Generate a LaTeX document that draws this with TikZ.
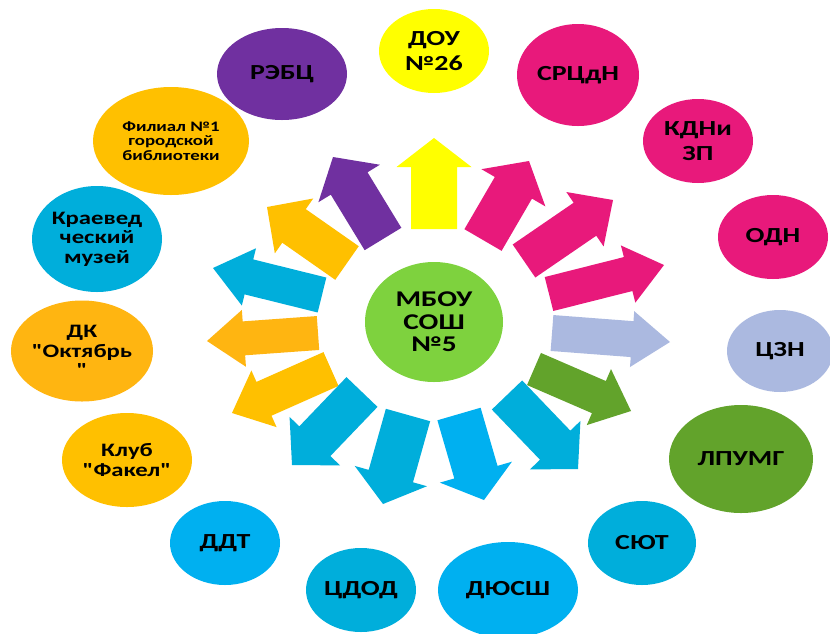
\documentclass[tikz,border=0pt]{standalone}
\usepackage{fontspec}
\newfontfamily\lblfont{Carlito}[FakeStretch=1.3]
\usetikzlibrary{calc,shapes.geometric}
\definecolor{cyel}{HTML}{FFFF00}
\definecolor{cpur}{HTML}{7030A0}
\definecolor{cgold}{HTML}{FFC000}
\definecolor{corg}{HTML}{FFB511}
\definecolor{ccyd}{HTML}{00AEDB}
\definecolor{ccyb}{HTML}{00B0F0}
\definecolor{cgrn}{HTML}{62A32B}
\definecolor{clav}{HTML}{ABB9E0}
\definecolor{cmag}{HTML}{E8197B}
\definecolor{clime}{HTML}{7ED23E}
\tikzset{
  bub/.style={ellipse, inner sep=0pt, align=center, text=black,
    font=\lblfont\bfseries\fontsize{21.5}{25}\selectfont},
  ctr/.style={font=\lblfont\bfseries\fontsize{22.5}{22.5}\selectfont},
  small/.style={font=\lblfont\bfseries\fontsize{14.5}{14.3}\selectfont},
  mid/.style={font=\lblfont\bfseries\fontsize{19}{19.5}\selectfont},
}
\newcommand\barrow[7]{%
  \coordinate (#1b) at (#3);
  \coordinate (#1t) at (#4);
  \coordinate (#1h) at ($(#1t)!#7!(#1b)$);
  \fill[#2] ($(#1b)!#5!90:(#1t)$) -- ($(#1h)!#5!90:(#1t)$) -- ($(#1h)!#6!90:(#1t)$)
    -- (#1t) -- ($(#1h)!#6!-90:(#1t)$) -- ($(#1h)!#5!-90:(#1t)$) -- ($(#1b)!#5!-90:(#1t)$) -- cycle;
}
\begin{document}
\begin{tikzpicture}[x=1pt,y=-1pt]
\useasboundingbox[fill=white] (0,0) rectangle (830,633);
% outer bubbles
\node[bub, fill=cyel, minimum width=110pt, minimum height=84pt] (dou) at (434,51) {ДОУ\\№26};
\node[bub, fill=cmag, minimum width=122pt, minimum height=102pt] (srcdn) at (578,75) {СРЦдН};
\node[bub, fill=cmag, minimum width=110pt, minimum height=84pt] (kdn) at (698,141) {КДНи\\ЗП};
\node[bub, fill=cmag, minimum width=110pt, minimum height=84pt] (odn) at (773,237) {ОДН};
\node[bub, fill=clav, minimum width=106pt, minimum height=82pt] (czn) at (780,351) {ЦЗН};
\node[bub, fill=cgrn, minimum width=144pt, minimum height=108pt] (lpumg) at (741,459) {ЛПУМГ};
\node[bub, fill=ccyd, minimum width=108pt, minimum height=84pt] (syut) at (642,543) {СЮТ};
\node[bub, fill=ccyb, minimum width=140pt, minimum height=96pt] (dyussh) at (508,590) {ДЮСШ};
\node[bub, fill=ccyd, minimum width=110pt, minimum height=84pt] (cdod) at (361,590) {ЦДОД};
\node[bub, fill=ccyb, minimum width=110pt, minimum height=84pt] (ddt) at (225,543) {ДДТ};
\node[bub, mid, fill=cgold, minimum width=130pt, minimum height=94pt] (klub) at (127,460) {Клуб\\"Факел"};
\node[bub, mid, fill=corg, minimum width=142pt, minimum height=101pt] (dk) at (82,351) {ДК\\"Октябрь\\"};
\node[bub, mid, fill=ccyd, minimum width=130pt, minimum height=106pt] (kraeved) at (97,239) {Краевед\\ческий\\музей};
\node[bub, small, fill=cgold, minimum width=156pt, minimum height=108pt] (filial) at (171,141) {Филиал №1\\городской\\библиотеки};
\node[bub, fill=cpur, minimum width=130pt, minimum height=92pt] (rebc) at (282,74) {РЭБЦ};
% centre
\node[bub, ctr, fill=clime, minimum width=138pt, minimum height=120pt] (mbou) at (434,322) {МБОУ\\СОШ\\№5};
% block arrows
\barrow{a1}{cyel}{434,229}{434,138}{23pt}{37.5pt}{29pt}
\barrow{a2}{cpur}{383,239}{333,157}{21.5pt}{36pt}{31pt}
\barrow{a3}{cgold}{347,263}{267,207}{20.5pt}{33.5pt}{33pt}
\barrow{a4}{ccyd}{322,295}{213,268}{18pt}{29.5pt}{37pt}
\barrow{a5}{corg}{318,333}{207,341}{17pt}{28.5pt}{37pt}
\barrow{a6}{cgold}{331,369}{232,413}{18.5pt}{31pt}{35pt}
\barrow{a7}{ccyd}{362,392}{292,465}{21.5pt}{35pt}{33pt}
\barrow{a8}{ccyd}{408,415}{383,504}{23pt}{37.5pt}{29pt}
\barrow{a9}{ccyb}{459,414}{484,500}{22.5pt}{37.5pt}{29pt}
\barrow{a10}{ccyd}{507,395}{578,469}{21pt}{35pt}{33pt}
\barrow{a11}{cgrn}{534,369}{631,411}{17.5pt}{30.5pt}{35pt}
\barrow{a12}{clav}{552,333}{670,342}{18pt}{28pt}{38pt}
\barrow{a13}{cmag}{549,294}{664,265}{17.5pt}{29.5pt}{37pt}
\barrow{a14}{cmag}{524,261}{613,200}{20pt}{33pt}{34pt}
\barrow{a15}{cmag}{483,240}{529,161}{21.5pt}{37pt}{31pt}
\end{tikzpicture}
\end{document}
